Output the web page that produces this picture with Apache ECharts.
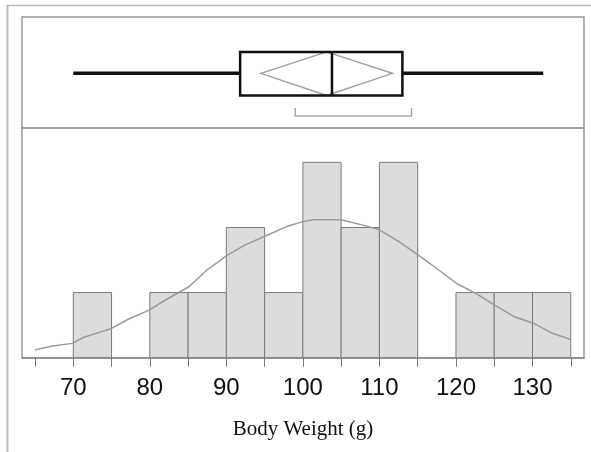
<!DOCTYPE html>
<html><head><meta charset="utf-8">
<script src="https://cdn.jsdelivr.net/npm/echarts@6/dist/echarts.min.js"></script>
<style>html,body{margin:0;padding:0;background:#fff}#c{width:591px;height:452px}</style>
</head><body><div id="c"></div>
<script>
// ---- data ----
const binStarts = [70, 75, 80, 85, 90, 95, 100, 105, 110, 115, 120, 125, 130];
const binWidth = 5;
const counts = [1, 0, 1, 1, 2, 1, 3, 2, 3, 0, 1, 1, 1];
const curveX = [65.0, 67.3, 69.9, 71.3, 73.7, 74.8, 77.2, 79.9, 82.1, 83.6, 85.1, 87.5, 90.2, 92.4, 95.1, 97.8, 100.0, 101.3, 105.0, 107.7, 109.9, 112.6, 114.8, 117.5, 120.1, 122.7, 125.0, 127.6, 130.1, 132.5, 135.0];
const curveY = [0.12, 0.18, 0.22, 0.31, 0.40, 0.44, 0.59, 0.73, 0.89, 0.99, 1.09, 1.35, 1.58, 1.73, 1.87, 2.01, 2.09, 2.12, 2.12, 2.04, 1.97, 1.78, 1.60, 1.37, 1.14, 0.98, 0.81, 0.63, 0.53, 0.38, 0.28];
const tickValues = [65, 70, 75, 80, 85, 90, 95, 100, 105, 110, 115, 120, 125, 130, 135];
const labelValues = [70, 80, 90, 100, 110, 120, 130];
const whiskerEnds = [70, 131.4];
const quartiles = [91.8, 113.0];
const median = 103.8;
const meanDiamond = [94.5, 103.1, 111.7]; // lower CI, mean, upper CI
const shortestHalf = [99.0, 114.2];
const axisName = 'Body Weight (g)';

const X_MIN = 63.3, X_MAX = 136.73;

const chart = echarts.init(document.getElementById('c'), null, {renderer: 'canvas'});

const histData = binStarts.map((s, i) => [s, s + binWidth, counts[i]]).filter(d => d[2] > 0);

function renderBar(params, api) {
  const p0 = api.coord([api.value(0), api.value(2)]);
  const p1 = api.coord([api.value(1), 0]);
  return {
    type: 'rect',
    shape: {x: p0[0], y: p0[1], width: p1[0] - p0[0], height: p1[1] - p0[1]},
    style: {fill: '#dcdcdc', stroke: '#7a7a7a', lineWidth: 1}
  };
}

function renderBox(params, api) {
  const cs = params.coordSys;
  const X = v => api.coord([v, 0])[0];
  const yTop = cs.y + cs.height * 0.315;
  const yBot = cs.y + cs.height * 0.707;
  const yMid = cs.y + cs.height * 0.507;
  const yBr = cs.y + cs.height * 0.892;
  const yBrT = cs.y + cs.height * 0.82;
  const black = '#111';
  return {
    type: 'group',
    children: [
      {type: 'line', shape: {x1: X(whiskerEnds[0]), y1: yMid, x2: X(quartiles[0]), y2: yMid}, style: {stroke: black, lineWidth: 3.5}},
      {type: 'line', shape: {x1: X(quartiles[1]), y1: yMid, x2: X(whiskerEnds[1]), y2: yMid}, style: {stroke: black, lineWidth: 3.5}},
      {type: 'polygon', shape: {points: [[X(meanDiamond[0]), yMid], [X(meanDiamond[1]), yTop], [X(meanDiamond[2]), yMid], [X(meanDiamond[1]), yBot]]}, style: {fill: 'none', stroke: '#9a9a9a', lineWidth: 1.3}},
      {type: 'rect', shape: {x: X(quartiles[0]), y: yTop, width: X(quartiles[1]) - X(quartiles[0]), height: yBot - yTop}, style: {fill: 'none', stroke: black, lineWidth: 2.5}},
      {type: 'line', shape: {x1: X(median), y1: yTop, x2: X(median), y2: yBot}, style: {stroke: black, lineWidth: 2.5}},
      {type: 'polyline', shape: {points: [[X(shortestHalf[0]), yBrT], [X(shortestHalf[0]), yBr], [X(shortestHalf[1]), yBr], [X(shortestHalf[1]), yBrT]]}, style: {fill: 'none', stroke: '#a8a8a8', lineWidth: 1.5}}
    ]
  };
}

const option = {
  animation: false,
  backgroundColor: '#fff',
  grid: [
    {left: 22, right: 7, top: 17, height: 111, show: true, borderColor: '#999', borderWidth: 1.5, backgroundColor: 'transparent'},
    {left: 22, right: 7, top: 128, bottom: 94.3, show: true, borderColor: '#999', borderWidth: 1.5, backgroundColor: 'transparent'}
  ],
  xAxis: [
    {type: 'value', gridIndex: 0, min: X_MIN, max: X_MAX, show: false},
    {type: 'value', gridIndex: 1, min: X_MIN, max: X_MAX,
      axisLine: {show: true, lineStyle: {color: '#888', width: 1.5}},
      axisTick: {show: true, customValues: tickValues, length: 9, lineStyle: {color: '#777', width: 1}},
      axisLabel: {customValues: labelValues, fontSize: 24, fontFamily: 'Liberation Sans, Arial, sans-serif', color: '#111', margin: 19},
      splitLine: {show: false},
      name: axisName, nameLocation: 'middle', nameGap: 61,
      nameTextStyle: {fontFamily: 'Liberation Serif, Times New Roman, serif', fontSize: 21, color: '#111'}
    }
  ],
  yAxis: [
    {type: 'value', gridIndex: 0, min: 0, max: 1, show: false},
    {type: 'value', gridIndex: 1, min: 0, max: 3.528, show: false}
  ],
  series: [
    {type: 'custom', xAxisIndex: 1, yAxisIndex: 1, data: histData, renderItem: renderBar, encode: {x: [0, 1], y: 2}, silent: true},
    {type: 'line', xAxisIndex: 1, yAxisIndex: 1, data: curveX.map((x, i) => [x, curveY[i]]), showSymbol: false, symbol: 'none', lineStyle: {color: '#9a9a9a', width: 1.5}, silent: true, z: 3},
    {type: 'custom', xAxisIndex: 0, yAxisIndex: 0, data: [[median, 0.5]], renderItem: renderBox, silent: true}
  ],
  graphic: [
    {type: 'line', shape: {x1: 7, y1: 5.5, x2: 591, y2: 5.5}, style: {stroke: '#bbb', lineWidth: 1.5}},
    {type: 'line', shape: {x1: 7.5, y1: 5, x2: 7.5, y2: 452}, style: {stroke: '#bbb', lineWidth: 2}}
  ]
};
chart.setOption(option);
</script>
</body></html>
